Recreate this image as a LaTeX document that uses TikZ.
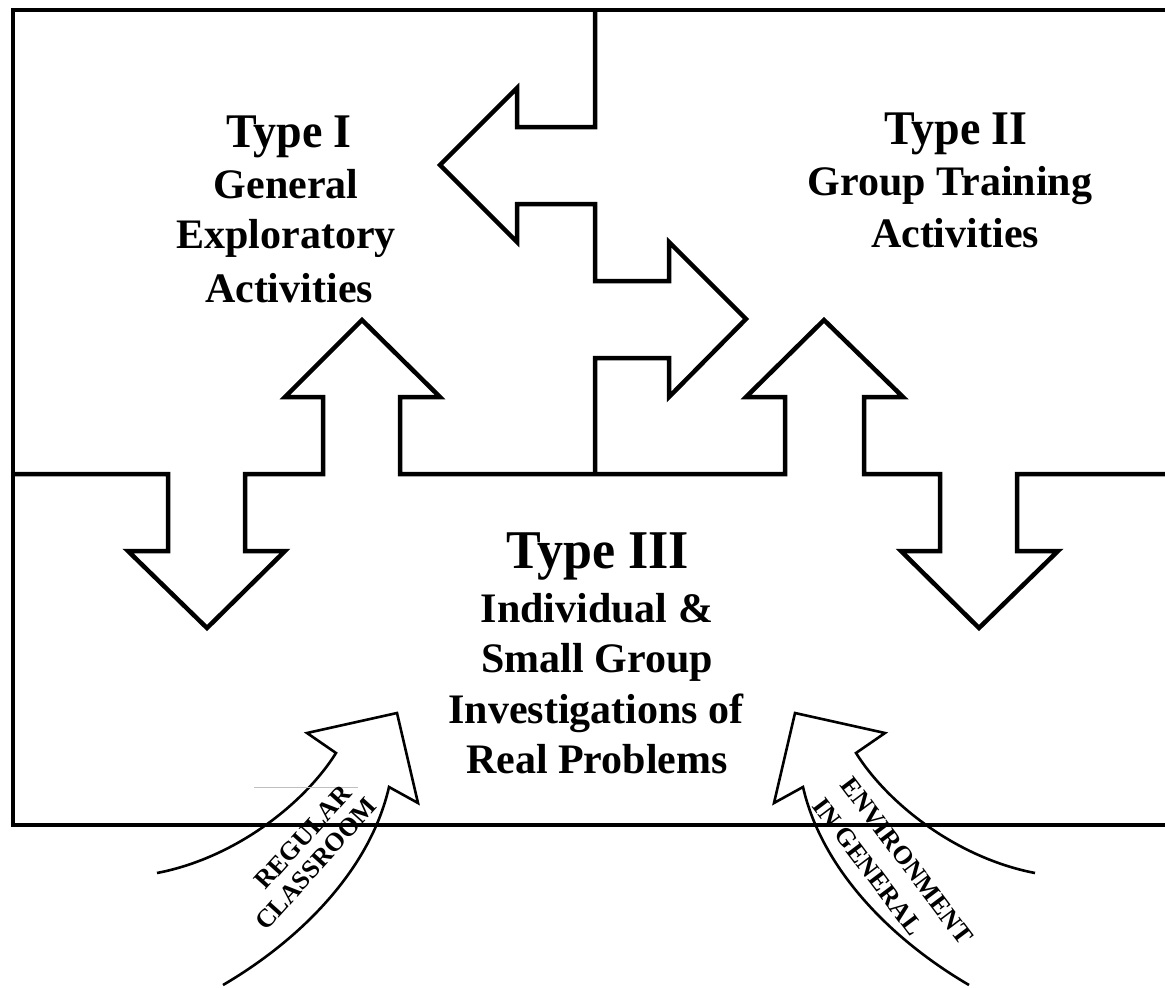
\documentclass[tikz,border=0pt]{standalone}
\usepackage{fontspec}
\setmainfont{Liberation Serif}
\begin{document}
\begin{tikzpicture}[x=1pt,y=-1pt,line join=miter,
  frame/.style={line width=4.5pt},
  curv/.style={line width=2.6pt,line join=miter},
  head/.style={font=\fontsize{46}{46}\selectfont\bfseries,anchor=base,inner sep=0pt,yscale=1.05},
  bighead/.style={font=\fontsize{52}{52}\selectfont\bfseries,anchor=base,inner sep=0pt,yscale=1.05},
  sub/.style={font=\fontsize{42}{42}\selectfont\bfseries,anchor=base,inner sep=0pt},
  lab/.style={font=\fontsize{26}{26}\selectfont\bfseries,inner sep=0pt}]
\useasboundingbox (0,0) rectangle (1165,988);
\begin{scope}
\clip (0,0) rectangle (1165,988);
% outer frame (right side beyond the picture)
\draw[frame] (1175,10) -- (13,10) -- (13,825) -- (1175,825);
% divider between Type I and Type II with the two horizontal arrows
\draw[frame] (595,10) -- (595,127) -- (517,127) -- (517,88) -- (440,165) -- (517,242)
  -- (517,204) -- (595,204) -- (595,281) -- (669,281) -- (669,242) -- (746,319)
  -- (669,397) -- (669,358) -- (595,358) -- (595,474);
% divider between top and Type III with the vertical arrows
\draw[frame] (13,474) -- (168,474) -- (168,551) -- (128,551) -- (207,628) -- (285,551)
  -- (245,551) -- (245,474) -- (323,474) -- (323,397) -- (285,397) -- (362,320)
  -- (440,397) -- (400,397) -- (400,474) -- (785,474) -- (785,397) -- (746,397)
  -- (824,320) -- (903,397) -- (864,397) -- (864,474) -- (940,474) -- (940,551)
  -- (901,551) -- (979,628) -- (1058,551) -- (1017,551) -- (1017,474) -- (1175,474);
\end{scope}
% curved arrows
\draw[curv] (157,873) .. controls (235,858) and (304,804) .. (336,753) -- (307,733)
  -- (397,713) -- (418,803) -- (389,787) .. controls (370,870) and (300,940) .. (223,985);
\begin{scope}[xshift=1192pt,xscale=-1]
\draw[curv] (157,873) .. controls (235,858) and (304,804) .. (336,753) -- (307,733)
  -- (397,713) -- (418,803) -- (389,787) .. controls (370,870) and (300,940) .. (223,985);
\end{scope}
\draw[line width=0.8pt,black!25] (254,787) -- (358,787);
% texts
\node[head] (t1) at (289,147) {Type I};
\node[sub] (t1a) at (286,198) {General};
\node[sub] (t1b) at (286,248) {Exploratory};
\node[sub] (t1c) at (289,302) {Activities};
\node[head] (t2) at (956,144) {Type II};
\node[sub] (t2a) at (950,195) {Group Training};
\node[sub] (t2b) at (955,247) {Activities};
\node[bighead] (t3) at (598,568) {Type III};
\node[sub] (t3a) at (597,622) {Individual \&};
\node[sub] (t3b) at (597,672) {Small Group};
\node[sub] (t3c) at (596,723) {Investigations of};
\node[sub] (t3d) at (597,773) {Real Problems};
\node[lab,rotate=48] (l1) at (303,837) {REGULAR};
\node[lab,rotate=48] (l2) at (316,864) {CLASSROOM};
\node[lab,rotate=-53] (r1) at (907,861) {ENVIRONMENT};
\node[lab,rotate=-53] (r2) at (868,867) {IN GENERAL};
\end{tikzpicture}
\end{document}
